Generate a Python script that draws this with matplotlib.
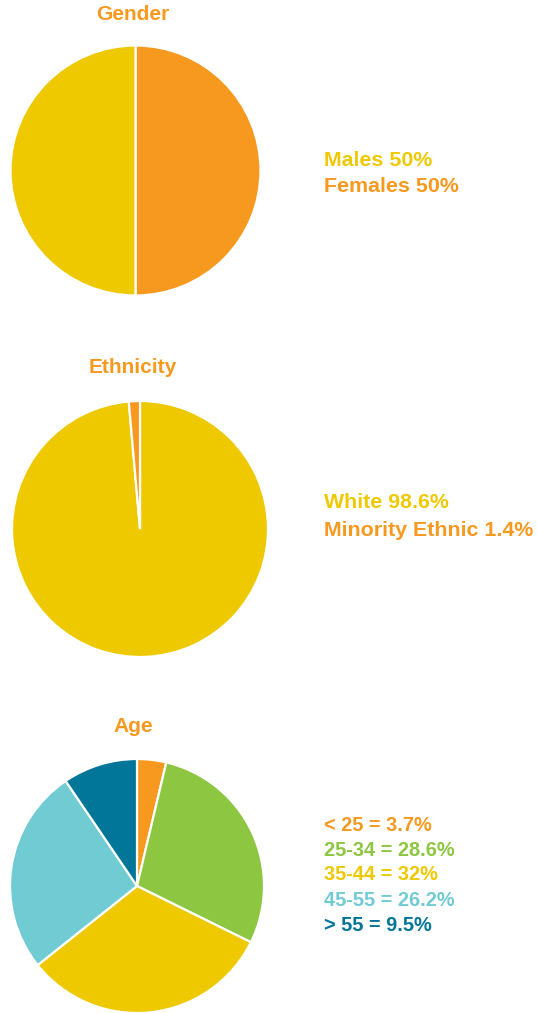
import matplotlib
matplotlib.use("Agg")
import matplotlib.pyplot as plt

W, H = 537, 1013

# data
gender_labels = ["Females", "Males"]
gender_values = [50, 50]
gender_colors = ["#F7991F", "#EFC900"]

ethnic_labels = ["White", "Minority Ethnic"]
ethnic_values = [98.6, 1.4]
ethnic_colors = ["#EFC900", "#F7991F"]

age_labels = ["< 25", "25-34", "35-44", "45-55", "> 55"]
age_values = [3.7, 28.6, 32, 26.2, 9.5]
age_colors = ["#F7991F", "#8DC641", "#EFC900", "#71CBD2", "#017699"]

orange = "#F7991F"
font = ["Liberation Sans", "DejaVu Sans"]

fig = plt.figure(figsize=(W / 100, H / 100), dpi=100)


def pie_at(cx, cy, r, values, colors):
    pad = 1.03
    ax = fig.add_axes([(cx - r * pad) / W, 1 - (cy + r * pad) / H,
                       2 * r * pad / W, 2 * r * pad / H])
    ax.pie(values, colors=colors, startangle=90, counterclock=False,
           wedgeprops=dict(edgecolor="white", linewidth=1.6))
    ax.set_xlim(-pad, pad)
    ax.set_ylim(-pad, pad)
    ax.set_aspect("equal")
    ax.axis("off")
    return ax


def txt(x, y, s, color, size, ha="left"):
    fig.text(x / W, 1 - y / H, s, color=color, fontsize=size,
             fontweight="bold", ha=ha, va="center", family=font)


# gender
pie_at(135.5, 170.5, 125, gender_values, gender_colors)
txt(133, 15, "Gender", orange, 15, ha="center")
txt(324, 160, "Males %d%%" % gender_values[1], gender_colors[1], 15.4)
txt(324, 187, "Females %d%%" % gender_values[0], gender_colors[0], 15.4)

# ethnicity
pie_at(140, 529, 128, ethnic_values, ethnic_colors)
txt(133, 367, "Ethnicity", orange, 15, ha="center")
for i, (lab, v) in enumerate(zip(ethnic_labels, ethnic_values)):
    txt(324, 503 + 27 * i, "%s %g%%" % (lab, v), ethnic_colors[i], 15.4)

# age
pie_at(137, 886, 127, age_values, age_colors)
txt(133, 727, "Age", orange, 15, ha="center")
for i, (lab, v) in enumerate(zip(age_labels, age_values)):
    txt(324, 825 + 25 * i, "%s = %g%%" % (lab, v), age_colors[i], 14.4)

fig.savefig("out.png", dpi=100, facecolor="white")
